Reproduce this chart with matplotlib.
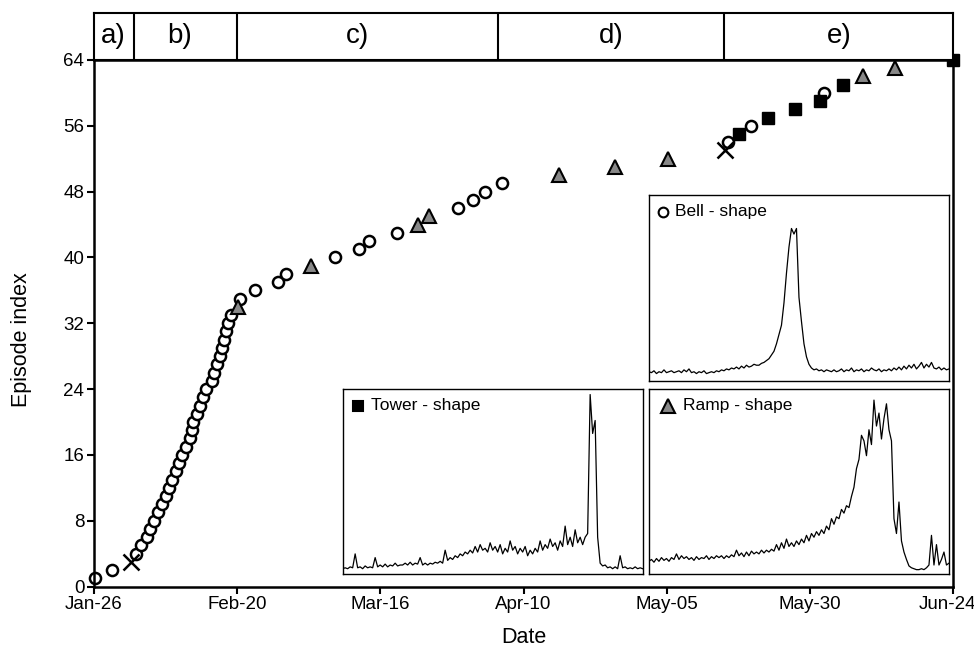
import datetime as dt
import numpy as np
import matplotlib
matplotlib.use("Agg")
from matplotlib import pyplot as plt
from matplotlib import transforms

plt.rcParams['font.family'] = ['Liberation Sans', 'DejaVu Sans']

# episodes: day offset from Jan-26 (2012) and episode index
bell_day = [0.2, 3.2, 7.3, 8.2, 9.2, 9.8, 10.5, 11.1, 11.8, 12.6, 13.1, 13.7, 14.3, 14.8,
            15.4, 16.1, 16.8, 17.1, 17.3, 17.9, 18.5, 19.1, 19.6, 20.6, 21.0, 21.5, 22.0,
            22.3, 22.7, 23.0, 23.4, 24.0, 25.5, 28.1, 32.2, 33.5, 42.1, 46.3, 48.1, 52.9,
            63.6, 66.1, 68.3, 71.2, 110.7, 114.7, 127.5]
bell_idx = [1, 2, 4, 5, 6, 7, 8, 9, 10, 11, 12, 13, 14, 15, 16, 17, 18, 19, 20, 21, 22, 23,
            24, 25, 26, 27, 28, 29, 30, 31, 32, 33, 35, 36, 37, 38, 40, 41, 42, 43, 46, 47,
            48, 49, 54, 56, 60]
ramp_day = [25.2, 37.9, 56.5, 58.5, 81.2, 91.0, 100.2, 134.2, 139.9]
ramp_idx = [34, 39, 44, 45, 50, 51, 52, 62, 63]
tower_day = [112.6, 117.7, 122.4, 126.8, 130.8, 150.0]
tower_idx = [55, 57, 58, 59, 61, 64]
other_day = [6.4, 110.2]
other_idx = [3, 53]

# periods shown in the strip above the plot
period_edges = [0, 7, 25, 70.5, 110, 150]
period_names = ["a)", "b)", "c)", "d)", "e)"]
period_label_x = [3.4, 15.0, 46.0, 90.3, 130.2]

# example normalised traces for each shape
tower_trace = [0.03, 0.035, 0.03, 0.04, 0.035, 0.11, 0.035, 0.04, 0.03, 0.045, 0.035, 0.04,
               0.035, 0.09, 0.04, 0.05, 0.04, 0.055, 0.04, 0.05, 0.045, 0.06, 0.045, 0.05,
               0.05, 0.06, 0.05, 0.065, 0.05, 0.06, 0.055, 0.09, 0.05, 0.06, 0.05, 0.06,
               0.055, 0.065, 0.06, 0.07, 0.06, 0.13, 0.075, 0.09, 0.08, 0.1, 0.09, 0.11,
               0.1, 0.12, 0.11, 0.13, 0.115, 0.15, 0.12, 0.16, 0.13, 0.14, 0.12, 0.17,
               0.13, 0.15, 0.12, 0.16, 0.11, 0.14, 0.12, 0.18, 0.13, 0.15, 0.11, 0.14,
               0.12, 0.15, 0.1, 0.13, 0.11, 0.14, 0.12, 0.18, 0.13, 0.16, 0.14, 0.19,
               0.15, 0.17, 0.13, 0.18, 0.15, 0.26, 0.16, 0.2, 0.15, 0.24, 0.17, 0.2,
               0.16, 0.2, 0.22, 0.97, 0.76, 0.83, 0.2, 0.06, 0.045, 0.05, 0.035, 0.04,
               0.03, 0.04, 0.03, 0.1, 0.035, 0.04, 0.03, 0.035, 0.03, 0.04, 0.03, 0.035, 0.03]
ramp_trace = [0.07, 0.08, 0.065, 0.085, 0.07, 0.09, 0.075, 0.085, 0.07, 0.09, 0.08, 0.11,
              0.08, 0.1, 0.085, 0.095, 0.08, 0.09, 0.075, 0.095, 0.08, 0.09, 0.085, 0.1,
              0.08, 0.095, 0.085, 0.1, 0.09, 0.1, 0.085, 0.1, 0.09, 0.105, 0.095, 0.13,
              0.1, 0.115, 0.095, 0.12, 0.1, 0.125, 0.11, 0.12, 0.11, 0.13, 0.115, 0.13,
              0.12, 0.135, 0.125, 0.16, 0.13, 0.17, 0.14, 0.19, 0.15, 0.17, 0.15, 0.18,
              0.16, 0.19, 0.17, 0.21, 0.18, 0.22, 0.2, 0.23, 0.21, 0.24, 0.22, 0.26,
              0.24, 0.3, 0.27, 0.31, 0.3, 0.35, 0.33, 0.37, 0.36, 0.42, 0.47, 0.57,
              0.62, 0.75, 0.72, 0.64, 0.78, 0.7, 0.94, 0.8, 0.87, 0.73, 0.84, 0.92,
              0.78, 0.72, 0.3, 0.22, 0.39, 0.18, 0.12, 0.08, 0.045, 0.035, 0.03, 0.025,
              0.025, 0.03, 0.025, 0.035, 0.05, 0.21, 0.05, 0.16, 0.05, 0.08, 0.12, 0.05, 0.06]
bell_trace = [0.05, 0.045, 0.055, 0.04, 0.05, 0.045, 0.06, 0.045, 0.05, 0.055, 0.045, 0.05,
              0.055, 0.045, 0.06, 0.05, 0.065, 0.045, 0.05, 0.04, 0.05, 0.045, 0.055, 0.04,
              0.045, 0.05, 0.045, 0.055, 0.05, 0.06, 0.055, 0.065, 0.06, 0.07, 0.065, 0.075,
              0.065, 0.08, 0.07, 0.085, 0.075, 0.08, 0.09, 0.085, 0.085, 0.095, 0.1, 0.11,
              0.12, 0.14, 0.16, 0.2, 0.25, 0.3, 0.42, 0.58, 0.72, 0.82, 0.79, 0.82,
              0.45, 0.32, 0.2, 0.13, 0.09, 0.07, 0.06, 0.065, 0.055, 0.06, 0.05, 0.06,
              0.055, 0.05, 0.06, 0.05, 0.055, 0.065, 0.05, 0.06, 0.055, 0.07, 0.05, 0.06,
              0.055, 0.065, 0.05, 0.06, 0.055, 0.07, 0.06, 0.055, 0.065, 0.05, 0.06, 0.055,
              0.065, 0.055, 0.07, 0.06, 0.075, 0.06, 0.08, 0.065, 0.085, 0.07, 0.09, 0.065,
              0.08, 0.1, 0.07, 0.09, 0.075, 0.1, 0.07, 0.065, 0.075, 0.06, 0.07, 0.06, 0.065]

start = dt.date(2012, 1, 26)
tick_days = [0, 25, 50, 75, 100, 125, 150]
tick_labels = [(start + dt.timedelta(days=d)).strftime("%b-%d") for d in tick_days]

fig = plt.figure(figsize=(9.74, 6.47), dpi=100)
ax = fig.add_axes([0.0965, 0.0935, 0.882, 0.8138])

ax.plot(bell_day, bell_idx, 'o', ms=8, mfc='white', mec='black', mew=1.8, clip_on=False)
ax.plot(ramp_day, ramp_idx, '^', ms=10, mfc='#888888', mec='black', mew=1.5, clip_on=False)
ax.plot(tower_day, tower_idx, 's', ms=8, mfc='black', mec='black', clip_on=False, zorder=5)
ax.plot(other_day, other_idx, 'x', ms=11, mec='black', mew=1.8, clip_on=False)

ax.set_xlim(0, 150)
ax.set_ylim(0, 64)
ax.set_xticks(tick_days)
ax.set_xticklabels(tick_labels)
ax.set_yticks(range(0, 65, 8))
ax.tick_params(labelsize=13.5, width=1.5, length=5, direction='out', pad=2)
for s in ax.spines.values():
    s.set_linewidth(1.8)
ax.set_xlabel("Date", fontsize=15.5, labelpad=10)
ax.set_ylabel("Episode index", fontsize=15.5)
ax.yaxis.set_label_coords(-0.072, 0.468)

# keep the last date label inside the figure
last = ax.get_xticklabels()[-1]
last.set_transform(last.get_transform() + transforms.ScaledTranslation(-6 / 100, 0, fig.dpi_scale_trans))

# strip with the periods a) - e)
top = fig.add_axes([0.0965, 0.9073, 0.882, 0.0726])
top.set_xlim(0, 150)
top.set_ylim(0, 1)
top.set_xticks([])
top.set_yticks([])
for s in top.spines.values():
    s.set_linewidth(1.5)
for e in period_edges[1:-1]:
    top.axvline(e, color='black', lw=1.5)
for name, xl in zip(period_names, period_label_x):
    top.text(xl, 0.5, name, ha='center', va='center', fontsize=20)


def inset(rect, trace, marker, mfc, label, mx, tx):
    a = fig.add_axes(rect)
    a.plot(np.linspace(0, 1, len(trace)), trace, color='black', lw=0.9)
    a.set_xlim(0, 1)
    a.set_ylim(0, 1)
    a.set_xticks([])
    a.set_yticks([])
    for s in a.spines.values():
        s.set_linewidth(1.0)
    a.plot([mx], [0.91], marker, ms=7 if marker != '^' else 10, mfc=mfc, mec='black',
           mew=1.5, transform=a.transAxes)
    a.text(tx, 0.91, label, transform=a.transAxes, va='center', ha='left', fontsize=12.5)


inset([0.6663, 0.4111, 0.308, 0.2875], bell_trace, 'o', 'white', "Bell - shape", 0.047, 0.088)
inset([0.3518, 0.1124, 0.308, 0.2864], tower_trace, 's', 'black', "Tower - shape", 0.052, 0.095)
inset([0.6663, 0.1124, 0.308, 0.2864], ramp_trace, '^', '#888888', "Ramp - shape", 0.064, 0.115)

fig.savefig("out.png", dpi=100)
